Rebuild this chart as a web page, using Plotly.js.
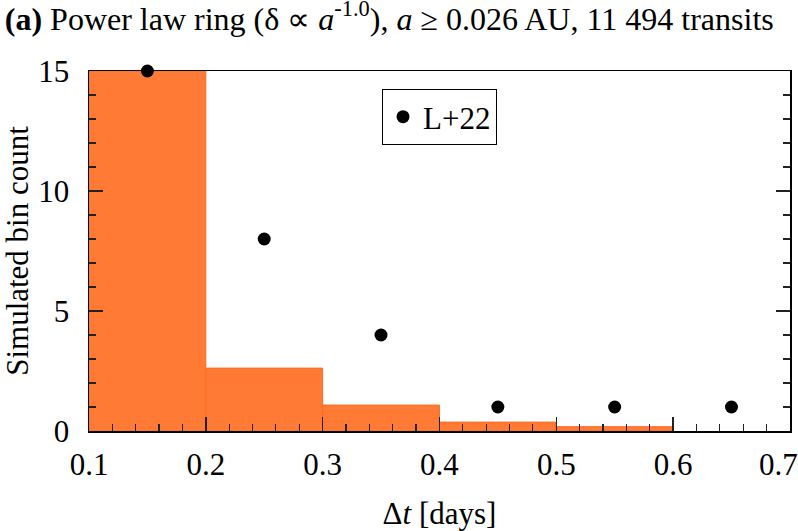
<!DOCTYPE html>
<html>
<head>
<meta charset="utf-8">
<script src="https://cdn.plot.ly/plotly-3.0.1.min.js"></script>
<style>
  html, body { margin: 0; padding: 0; background: #fff; }
  #chart { width: 798px; height: 531px; }
</style>
</head>
<body>
<div id="chart"></div>
<script>
// simulated histogram (bin centres, width 0.1 day)
const binCenters = [0.15, 0.25, 0.35, 0.45, 0.55];
const simCounts = [15, 2.62, 1.08, 0.37, 0.18];

// observed counts, L+22
const obsDt = [0.15, 0.25, 0.35, 0.45, 0.55, 0.65];
const obsCounts = [15, 8, 4, 1, 1, 1];

// x tick labels (last one padded so it sits inside the figure like the original)
const xTickVals = [0.1, 0.2, 0.3, 0.4, 0.5, 0.6, 0.7];
const xTickText = ["0.1", "0.2", "0.3", "0.4", "0.5", "0.6", "0.7\u00a0\u00a0\u00a0"];

const FONT = "'Liberation Serif', 'Times New Roman', serif";

const traces = [
  {
    x: binCenters,
    y: simCounts,
    type: "bar",
    width: 0.1,
    marker: { color: "#ff7a35", line: { color: "#ff6a1f", width: 1 } },
    showlegend: false,
    hoverinfo: "skip"
  },
  {
    x: obsDt,
    y: obsCounts,
    type: "scatter",
    mode: "markers",
    name: "L+22",
    marker: { color: "#000", size: 13 },
    cliponaxis: false
  }
];

const layout = {
  width: 798,
  height: 531,
  paper_bgcolor: "#fff",
  plot_bgcolor: "#fff",
  font: { family: FONT, size: 32, color: "#000" },
  margin: { l: 89, r: 8, t: 71, b: 100 },
  title: {
    text: "<b>(a)</b> Power law ring (δ ∝ <i>a</i><sup>-1.0</sup>), <i>a</i> ≥ 0.026 AU, 11 494 transits",
    font: { family: FONT, size: 32 },
    x: 0.006,
    xanchor: "left",
    xref: "container",
    y: 0.965,
    yanchor: "middle"
  },
  xaxis: {
    range: [0.1, 0.7001],
    tickmode: "array",
    tickvals: xTickVals,
    ticktext: xTickText,
    ticklabeloverflow: "allow",
    ticklabelstandoff: 5,
    ticks: "inside",
    ticklen: 14,
    tickwidth: 1.5,
    tickcolor: "#222",
    minor: { dtick: 0.02, tick0: 0.1, ticks: "inside", ticklen: 7, tickwidth: 1.2, tickcolor: "#222" },
    showline: true,
    linecolor: "#000",
    linewidth: 1.5,
    mirror: true,
    showgrid: false,
    zeroline: false,
    tickfont: { family: FONT, size: 31 },
    title: { text: "Δ<i>t</i> [days]", font: { family: FONT, size: 31 }, standoff: 24 }
  },
  yaxis: {
    range: [0, 15],
    dtick: 5,
    ticks: "inside",
    ticklen: 14,
    tickwidth: 1.5,
    tickcolor: "#222",
    minor: { dtick: 1, ticks: "inside", ticklen: 7, tickwidth: 1.2, tickcolor: "#222" },
    showline: true,
    linecolor: "#000",
    linewidth: 1.5,
    mirror: "ticks",
    showgrid: false,
    zeroline: false,
    ticklabelstandoff: 12,
    tickfont: { family: FONT, size: 31 },
    title: { text: "Simulated bin count", font: { family: FONT, size: 31 }, standoff: 2 }
  },
  bargap: 0,
  showlegend: true,
  legend: {
    x: 0.418,
    y: 0.95,
    xanchor: "left",
    yanchor: "top",
    bgcolor: "#fff",
    bordercolor: "#000",
    borderwidth: 1,
    font: { family: FONT, size: 31 },
    itemwidth: 30
  }
};

Plotly.newPlot("chart", traces, layout, { displayModeBar: false, staticPlot: true });
</script>
</body>
</html>
